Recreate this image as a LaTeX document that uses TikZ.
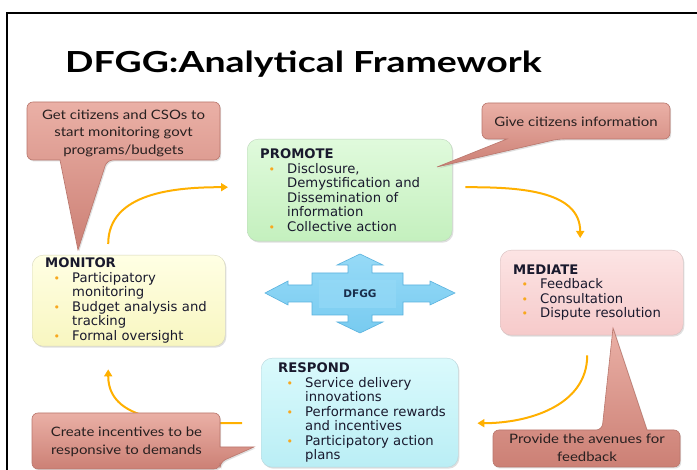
\documentclass[tikz,border=0pt]{standalone}
\usepackage{fontspec}
\setmainfont{DejaVu Sans}
\newfontfamily\gillfont[FakeStretch=1.15]{Lato}
\newfontfamily\titlefont[FakeStretch=1.29]{Lato}
\usetikzlibrary{arrows.meta,shadows}
\definecolor{txt}{RGB}{25,25,45}
\definecolor{bulc}{RGB}{248,168,30}
\definecolor{flowc}{RGB}{255,176,0}
\definecolor{caltop}{RGB}{234,176,166}
\definecolor{calbot}{RGB}{204,128,117}
\definecolor{caldraw}{RGB}{185,118,108}
\definecolor{caltxt}{RGB}{40,32,32}
\definecolor{crossfill}{RGB}{120,203,240}
\definecolor{crosstop}{RGB}{150,218,247}
\definecolor{crossdraw}{RGB}{90,178,222}
\definecolor{crosstxt}{RGB}{25,45,75}
\newcommand{\bl}{\makebox[27pt][l]{\hspace{8.5pt}\textcolor{bulc}{\fontsize{11}{11}\selectfont •}}}
\newcommand{\ct}{\hspace*{27pt}}
\begin{document}
\begin{tikzpicture}[x=1pt,y=1pt,
  box/.style={rounded corners=11pt, anchor=north west, align=left, text=txt,
    font=\fontsize{13.2}{14.5}\selectfont, inner xsep=13pt, inner ysep=0pt,
    drop shadow={shadow xshift=1.2pt, shadow yshift=-1.5pt, opacity=0.25, fill=gray}},
  flow/.style={draw=flowc, line width=2pt, -{Triangle[length=7pt,width=8pt]}},
  callout/.style={top color=caltop, bottom color=calbot, draw=caldraw, line width=0.6pt,
    drop shadow={shadow xshift=1.2pt, shadow yshift=-1.5pt, opacity=0.25, fill=gray}},
  ctext/.style={align=center, text=caltxt, font=\gillfont\fontsize{13}{17.5}\selectfont, inner sep=0pt}
]
\useasboundingbox (0,0) rectangle (697,470);
\fill[white] (0,0) rectangle (697,470);
\draw[line width=1.2pt] (7,0) -- (7,457) -- (697,457);

\node[anchor=base west, inner sep=0pt, font=\titlefont\bfseries\fontsize{29}{29}\selectfont] (title) at (65,397) {DFGG:Analytical Framework};

% boxes
\node[box, top color={rgb,255:red,224;green,250;blue,220}, bottom color={rgb,255:red,196;green,240;blue,190}, draw={rgb,255:red,188;green,214;blue,186},
  minimum width=205pt, minimum height=102pt, text width=179pt] (pro) at (247,331)
  {\textbf{PROMOTE}\\ \bl\mbox{Disclosure,}\\ \ct\mbox{Demystification and}\\ \ct\mbox{Dissemination of}\\ \ct\mbox{information}\\ \bl\mbox{Collective action}};
\node[box, top color={rgb,255:red,255;green,255;blue,228}, bottom color={rgb,255:red,248;green,246;blue,192}, draw={rgb,255:red,214;green,214;blue,186},
  minimum width=193pt, minimum height=91pt, text width=167pt] (mon) at (32,215)
  {\textbf{MONITOR}\\ \bl\mbox{Participatory}\\ \ct\mbox{monitoring}\\ \bl\mbox{Budget analysis and}\\ \ct\mbox{tracking}\\ \bl\mbox{Formal oversight}};
\node[box, top color={rgb,255:red,252;green,228;blue,228}, bottom color={rgb,255:red,246;green,202;blue,202}, draw={rgb,255:red,214;green,190;blue,190},
  minimum width=183pt, minimum height=85pt, text width=157pt] (med) at (500,220)
  {\textbf{MEDIATE}\\ \bl\mbox{Feedback}\\ \bl\mbox{Consultation}\\ \bl\mbox{Dispute resolution}};
\node[box, inner xsep=17pt, top color={rgb,255:red,218;green,250;blue,252}, bottom color={rgb,255:red,186;green,238;blue,245}, draw={rgb,255:red,184;green,214;blue,220},
  minimum width=197pt, minimum height=109pt, text width=163pt] (res) at (261,112)
  {\textbf{RESPOND}\\ \bl\mbox{Service delivery}\\ \ct\mbox{innovations}\\ \bl\mbox{Performance rewards}\\ \ct\mbox{and incentives}\\ \bl\mbox{Participatory action}\\ \ct\mbox{plans}};

% flow arrows
\draw[flow] ([shift={(-20.5,11)}]mon.north) to[out=90,in=180] ([shift={(-19,3)}]pro.west);
\draw[flow] ([shift={(13,3)}]pro.east) to[out=0,in=90] ([shift={(-11.5,12)}]med.north);
\draw[flow] ([shift={(-4.5,-20)}]med.south) to[out=-90,in=0] ([shift={(19,-10.5)}]res.east);
\draw[flow] ([shift={(-19,-10.5)}]res.west) to[out=180,in=-90] ([shift={(-20.5,-23)}]mon.south);

% central cross
\path[top color=crosstop, bottom color=crossfill, draw=crossdraw, line width=0.6pt]
  (360,216) -- (383,205) -- (372,205) -- (372,197) -- (403,197) -- (403,185) -- (430,185) -- (430,189)
  -- (455,177) -- (430,165) -- (430,168) -- (403,168) -- (403,155) -- (372,155) -- (372,148) -- (383,148)
  -- (360,137) -- (337,148) -- (348,148) -- (348,155) -- (312,155) -- (312,168) -- (288,168) -- (288,165)
  -- (265,177) -- (288,189) -- (288,185) -- (312,185) -- (312,197) -- (348,197) -- (348,205) -- (337,205) -- cycle;
\fill[crosstop, opacity=0.6] (319,162) rectangle (396,190);
\node[font=\bfseries\fontsize{10.5}{10.5}\selectfont, text=crosstxt, inner sep=0pt] (dfgg) at (360,176) {DFGG};

% callouts
\path[callout] (78,220) -- (60,310) [rounded corners=6pt] -- (27,310) -- (27,368) -- (220,368) -- (220,310) -- (107,310) [sharp corners] -- cycle;
\node[ctext] (c1) at (123.5,337) {Get citizens and CSOs to\\start monitoring govt\\programs/budgets};

\path[callout] (437,303) -- (507,331) [rounded corners=6pt] -- (482,331) -- (482,367) -- (670,367) -- (670,331) -- (558,331) [sharp corners] -- cycle;
\node[ctext] (c2) at (576,348) {Give citizens information};

\path[callout] (254,23) -- (220,23) [rounded corners=6pt] -- (220,57) -- (32,57) -- (32,1) -- (220,1) -- (220,8) [sharp corners] -- cycle;
\node[ctext] (c3) at (126.5,28) {Create incentives to be\\responsive to demands};

\path[callout] (613,142) -- (647,40) [rounded corners=6pt] -- (680,40) -- (680,3) -- (493,3) -- (493,40) -- (602,40) [sharp corners] -- cycle;
\node[ctext] (c4) at (587,22) {Provide the avenues for\\feedback};
\end{tikzpicture}
\end{document}
